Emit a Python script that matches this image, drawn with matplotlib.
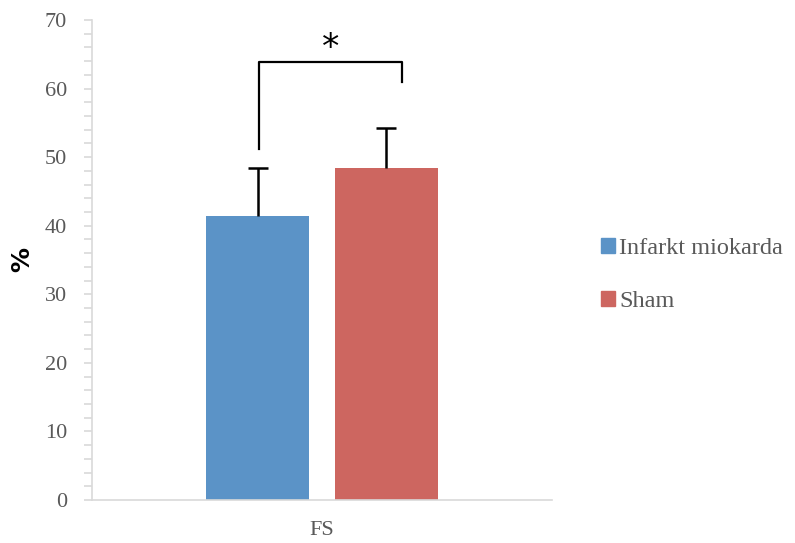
import matplotlib.pyplot as plt
from matplotlib.patches import Patch
import numpy as np

categories = ['FS']
series = ['Infarkt miokarda', 'Sham']
values = [41.4, 48.4]
errors = [7.0, 5.8]
colors = ['#5b93c7', '#cd6660']

# significance bracket (data units)
bracket_x = [-0.137, 0.174]
bracket_low = [51.2, 61.0]
bracket_top = 63.9


def main():
    plt.rcParams['font.family'] = ['Liberation Serif', 'DejaVu Serif']
    fig = plt.figure(figsize=(7.95, 5.43), dpi=100)
    ax = fig.add_axes([92 / 795, 43 / 543, 460 / 795, 480 / 543])

    offsets = [-0.14, 0.14]
    width = 0.224
    for i in range(len(series)):
        ax.bar(offsets[i], values[i], width=width, color=colors[i], zorder=2)
        eb = ax.errorbar(offsets[i], values[i], yerr=[[0], [errors[i]]], fmt='none',
                         ecolor='black', elinewidth=1.8, capsize=7, capthick=1.8, zorder=3)
        # only the upper cap
        eb[1][0].set_visible(False)

    # bracket
    ax.plot([bracket_x[0], bracket_x[0], bracket_x[1], bracket_x[1]],
            [bracket_low[0], bracket_top, bracket_top, bracket_low[1]],
            color='black', lw=1.6, zorder=4)
    ax.text(np.mean(bracket_x), bracket_top - 0.5, '*', ha='center', va='bottom',
            fontsize=25, color='black', family='DejaVu Sans')

    ax.set_xlim(-0.5, 0.5)
    ax.set_ylim(0, 70)
    ax.set_yticks(np.arange(0, 71, 10))
    ax.set_yticks(np.arange(0, 71, 2), minor=True)
    ax.set_xticks([0])
    ax.set_xticklabels(categories)

    for s in ['top', 'right']:
        ax.spines[s].set_visible(False)
    for s in ['left', 'bottom']:
        ax.spines[s].set_color('#d9d9d9')
        ax.spines[s].set_linewidth(1.2)
    ax.tick_params(axis='y', which='both', color='#d9d9d9', length=6, width=1.2,
                   labelsize=16, labelcolor='#595959', pad=12)
    ax.tick_params(axis='x', length=0, labelsize=16, labelcolor='#595959', pad=15)

    fig.text(22 / 795, 1 - 260 / 543, '%', rotation=90, ha='center', va='center',
             fontsize=18, fontweight='bold', family='DejaVu Sans')

    handles = [Patch(color=c) for c in colors]
    fig.legend(handles, series, loc='center left', bbox_to_anchor=(579 / 795, 1 - 275 / 543),
               frameon=False, fontsize=17.5, labelcolor='#595959', handlelength=0.6,
               handleheight=0.6, handletextpad=0.15, labelspacing=1.3)

    fig.savefig('out.png', dpi=100)


if __name__ == '__main__':
    main()
